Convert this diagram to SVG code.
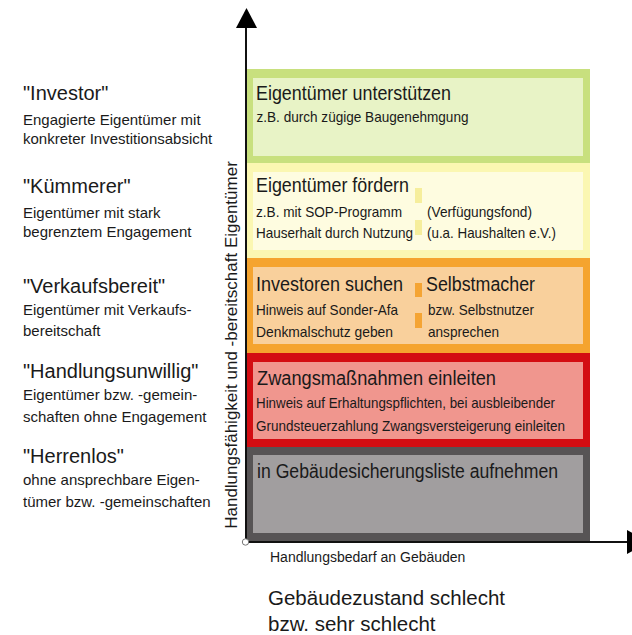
<svg xmlns="http://www.w3.org/2000/svg" width="632" height="635" viewBox="0 0 632 635">
<style>
text{font-family:"Liberation Sans",Arial,sans-serif;fill:#1a1a1a}
.h{font-size:20px}
.s{font-size:15px}
.t{font-size:20px}
.u{font-size:14.5px}
.ax{stroke:#111;stroke-width:2;fill:none}
</style>
<rect width="632" height="635" fill="#fff"/>
<g id="left-labels">
<text class="h" x="23" y="100">"Investor"</text>
<text class="s" x="23" y="125">Engagierte Eigentümer mit</text>
<text class="s" x="23" y="144">konkreter Investitionsabsicht</text>
<text class="h" x="23" y="193">"Kümmerer"</text>
<text class="s" x="23" y="218">Eigentümer mit stark</text>
<text class="s" x="23" y="237">begrenztem Engagement</text>
<text class="h" x="23" y="293">"Verkaufsbereit"</text>
<text class="s" x="23" y="315">Eigentümer mit Verkaufs-</text>
<text class="s" x="23" y="336">bereitschaft</text>
<text class="h" x="23" y="378">"Handlungsunwillig"</text>
<text class="s" x="23" y="400">Eigentümer bzw. -gemein-</text>
<text class="s" x="23" y="422">schaften ohne Engagement</text>
<text class="h" x="23" y="463">"Herrenlos"</text>
<text class="s" x="23" y="485">ohne ansprechbare Eigen-</text>
<text class="s" x="23" y="507">tümer bzw. -gemeinschaften</text>
</g>
<g id="box-green">
<rect x="246" y="69" width="344" height="94" fill="#c8e07e"/>
<rect x="253" y="78" width="330" height="78" fill="#e8f3c6"/>
<text class="t" x="256" y="100" textLength="195" lengthAdjust="spacingAndGlyphs">Eigentümer unterstützen</text>
<text class="u" x="256.5" y="122" textLength="212" lengthAdjust="spacingAndGlyphs">z.B. durch zügige Baugenehmgung</text>
</g>
<g id="box-yellow">
<rect x="246" y="163" width="344" height="95" fill="#fbf7b2"/>
<rect x="253" y="172" width="330" height="78" fill="#fefce0"/>
<rect x="415" y="188" width="7" height="15" fill="#f6ee9c"/>
<rect x="415" y="220" width="7" height="15" fill="#f6ee9c"/>
<text class="t" x="256" y="192" textLength="153" lengthAdjust="spacingAndGlyphs">Eigentümer fördern</text>
<text class="u" x="256" y="217" textLength="146" lengthAdjust="spacingAndGlyphs">z.B. mit SOP-Programm</text>
<text class="u" x="427" y="217" textLength="105" lengthAdjust="spacingAndGlyphs">(Verfügungsfond)</text>
<text class="u" x="256" y="238" textLength="157" lengthAdjust="spacingAndGlyphs">Hauserhalt durch Nutzung</text>
<text class="u" x="427" y="238" textLength="129" lengthAdjust="spacingAndGlyphs">(u.a. Haushalten e.V.)</text>
</g>
<g id="box-orange">
<rect x="246" y="258" width="344" height="95" fill="#f5a42f"/>
<rect x="253" y="267" width="330" height="77" fill="#f9d09c"/>
<rect x="415" y="283" width="7" height="14" fill="#f5a433"/>
<rect x="415" y="313" width="7" height="15" fill="#f5a433"/>
<text class="t" x="256" y="291" textLength="147" lengthAdjust="spacingAndGlyphs">Investoren suchen</text>
<text class="t" x="426" y="291" textLength="109" lengthAdjust="spacingAndGlyphs">Selbstmacher</text>
<text class="u" x="256" y="315" textLength="142" lengthAdjust="spacingAndGlyphs">Hinweis auf Sonder-Afa</text>
<text class="u" x="428" y="315" textLength="106" lengthAdjust="spacingAndGlyphs">bzw. Selbstnutzer</text>
<text class="u" x="256" y="337" textLength="137" lengthAdjust="spacingAndGlyphs">Denkmalschutz geben</text>
<text class="u" x="428" y="337" textLength="71" lengthAdjust="spacingAndGlyphs">ansprechen</text>
</g>
<g id="box-red">
<rect x="246" y="353" width="344" height="94" fill="#d30d12"/>
<rect x="253" y="362" width="330" height="77" fill="#f0968e"/>
<text class="t" x="257" y="385" textLength="239" lengthAdjust="spacingAndGlyphs">Zwangsmaßnahmen einleiten</text>
<text class="u" x="256" y="408" textLength="299" lengthAdjust="spacingAndGlyphs">Hinweis auf Erhaltungspflichten, bei ausbleibender</text>
<text class="u" x="256" y="431" textLength="309" lengthAdjust="spacingAndGlyphs">Grundsteuerzahlung Zwangsversteigerung einleiten</text>
</g>
<g id="box-gray">
<rect x="246" y="447" width="344" height="95" fill="#575455"/>
<rect x="253" y="455" width="330" height="78" fill="#a19e9f"/>
<text class="t" x="257" y="478" textLength="301" lengthAdjust="spacingAndGlyphs">in Gebäudesicherungsliste aufnehmen</text>
</g>
<g id="connectors">
<line class="ax" x1="246" y1="542" x2="246" y2="26"/>
<polygon points="236,28 257,28 246.5,8" fill="#000"/>
<line class="ax" x1="246" y1="542" x2="628" y2="542"/>
<polygon points="627,530 627,554 649,542" fill="#000"/>
<circle cx="245.5" cy="542" r="3.2" fill="#fff" stroke="#777" stroke-width="1"/>
</g>
<g id="axis-labels">
<text x="0" y="0" font-size="17" text-anchor="middle" transform="translate(237 345) rotate(-90)">Handlungsfähigkeit und -bereitschaft Eigentümer</text>
<text x="270" y="562" font-size="14">Handlungsbedarf an Gebäuden</text>
<text x="268" y="605" font-size="20.5">Gebäudezustand schlecht</text>
<text x="268" y="631" font-size="20.5">bzw. sehr schlecht</text>
</g>
</svg>
